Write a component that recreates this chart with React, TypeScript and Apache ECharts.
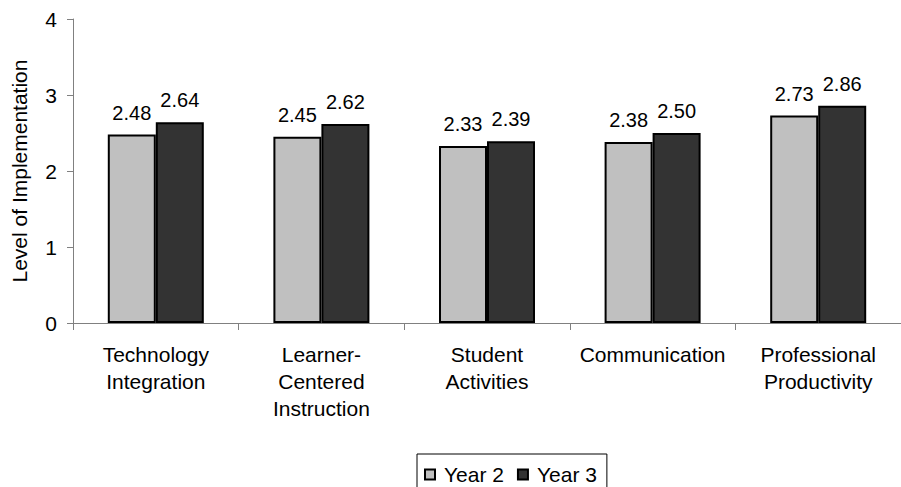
import React, { useEffect, useRef } from "react";
import * as echarts from "echarts";

const categories = [
  "Technology\nIntegration",
  "Learner-\nCentered\nInstruction",
  "Student\nActivities",
  "Communication",
  "Professional\nProductivity",
];
const year2 = [2.48, 2.45, 2.33, 2.38, 2.73];
const year3 = [2.64, 2.62, 2.39, 2.5, 2.86];
const yTicks = [0, 1, 2, 3, 4];

const FONT = "'Liberation Sans', Arial, sans-serif";

export default function App() {
  const ref = useRef<HTMLDivElement>(null);
  useEffect(() => {
    if (!ref.current) return;
    const chart = echarts.init(ref.current, undefined, { renderer: "svg" });
    const labelCfg = {
      show: true,
      position: "top",
      distance: 12,
      color: "#000",
      fontFamily: FONT,
      fontSize: 20,
      formatter: (p: any) => Number(p.value).toFixed(2),
    };
    chart.setOption({
      animation: false,
      backgroundColor: "#fff",
      textStyle: { fontFamily: FONT },
      grid: { left: 73, top: 19, bottom: 487 - 323, right: -7, containLabel: false },
      legend: {
        left: 417,
        top: 454,
        padding: [10, 10, 14, 7],
        borderColor: "#000",
        borderWidth: 1,
        itemWidth: 10,
        itemHeight: 10,
        itemGap: 13,
        icon: "rect",
        textStyle: { fontFamily: FONT, fontSize: 21, color: "#000", padding: [0, 0, 0, 4] },
        data: ["Year 2", "Year 3"],
      },
      xAxis: {
        type: "category",
        data: categories,
        axisLine: { lineStyle: { color: "#808080", width: 1 } },
        axisTick: { show: true, length: 7, lineStyle: { color: "#808080" } },
        axisLabel: {
          interval: 0,
          margin: 18,
          color: "#000",
          fontFamily: FONT,
          fontSize: 21,
          lineHeight: 27,
        },
      },
      yAxis: {
        type: "value",
        min: yTicks[0],
        max: yTicks[yTicks.length - 1],
        interval: 1,
        name: "Level of Implementation",
        nameLocation: "middle",
        nameGap: 43,
        nameRotate: 90,
        nameTextStyle: { color: "#000", fontFamily: FONT, fontSize: 21 },
        splitLine: { show: false },
        axisLine: { show: true, lineStyle: { color: "#808080", width: 1 } },
        axisTick: { show: true, length: 6, lineStyle: { color: "#808080" } },
        axisLabel: { color: "#000", fontFamily: FONT, fontSize: 21, margin: 16 },
      },
      series: [
        {
          name: "Year 2",
          type: "bar",
          data: year2,
          barWidth: 48,
          barGap: "0%",
          itemStyle: { color: "#c0c0c0", borderColor: "#000", borderWidth: 2 },
          label: labelCfg,
        },
        {
          name: "Year 3",
          type: "bar",
          data: year3,
          barWidth: 48,
          itemStyle: { color: "#333333", borderColor: "#000", borderWidth: 2 },
          label: labelCfg,
        },
      ],
    });
    return () => chart.dispose();
  }, []);
  return (
    <div
      ref={ref}
      style={{ position: "fixed", left: 0, top: 0, width: 901, height: 487 }}
    />
  );
}
